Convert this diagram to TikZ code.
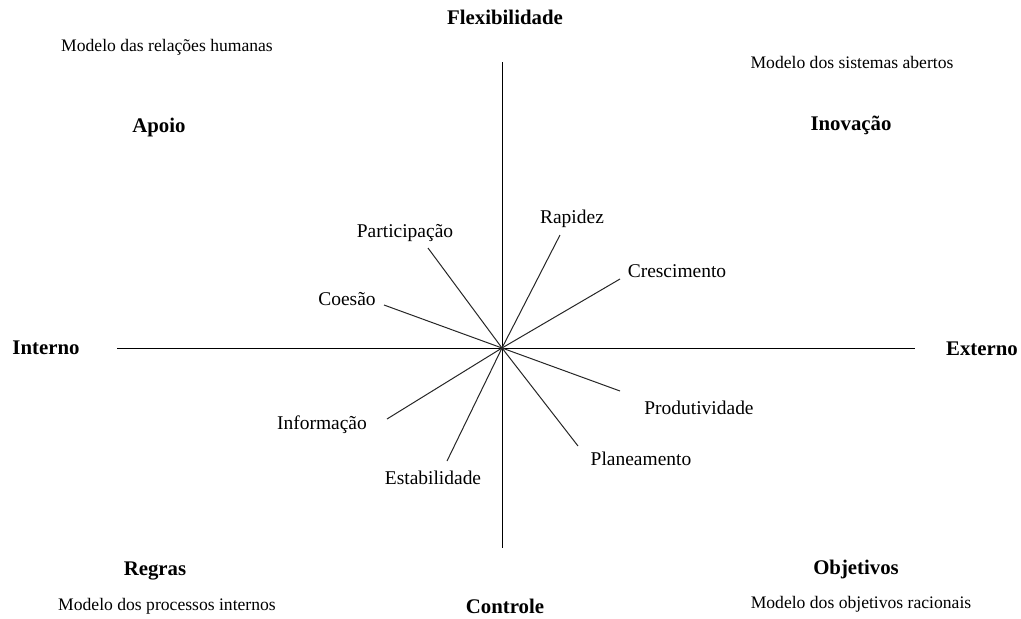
\documentclass[tikz,border=0pt]{standalone}
\usepackage{fontspec}
\setmainfont{Liberation Serif}
\begin{document}
\begin{tikzpicture}[x=0.75pt,y=-0.75pt,
  axis/.style={line width=0.75pt,black},
  spoke/.style={line width=0.75pt,black!85},
  lbl/.style={inner sep=0pt,font=\fontsize{14.6}{16}\selectfont},
  model/.style={inner sep=0pt,font=\fontsize{13.2}{15}\selectfont},
  head/.style={inner sep=0pt,font=\fontsize{15.6}{17}\selectfont\bfseries}]
\useasboundingbox (0,0) rectangle (1021,618);
% axes
\coordinate (c) at (502,348);
\coordinate (top) at (502,62);
\coordinate (bot) at (502,548);
\coordinate (left) at (117,348);
\coordinate (right) at (915,348);
\draw[axis] (top) -- (bot);
\draw[axis] (left) -- (right);
% spoke ends
\coordinate (ePart) at (428,248);
\coordinate (eRap) at (560,235);
\coordinate (eCres) at (620,279);
\coordinate (eCoe) at (384,305);
\coordinate (eInf) at (387,419);
\coordinate (eEst) at (447,461);
\coordinate (eProd) at (620,391);
\coordinate (ePlan) at (578,446);
\foreach \e in {ePart,eRap,eCres,eCoe,eInf,eEst,eProd,ePlan}
  \draw[spoke] (c) -- (\e);
% spoke labels
\node[lbl] (Part) at (405,233) {Participação};
\node[lbl] (Rap) at (572,219) {Rapidez};
\node[lbl] (Cres) at (677,271) {Crescimento};
\node[lbl] (Coe) at (347,299) {Coesão};
\node[lbl] (Inf) at (322,425) {Informação};
\node[lbl] (Est) at (433,478) {Estabilidade};
\node[lbl] (Prod) at (699,408) {Produtividade};
\node[lbl] (Plan) at (641,459) {Planeamento};
% headings
\node[head] (Flex) at (505,17) {Flexibilidade};
\node[head] (Ctrl) at (505,606) {Controle};
\node[head] (Int) at (46,348) {Interno};
\node[head] (Ext) at (982,349) {Externo};
\node[head] (Apoio) at (159,127) {Apoio};
\node[head] (Inov) at (851,125) {Inovação};
\node[head] (Regras) at (155,571) {Regras};
\node[head] (Obj) at (856,569) {Objetivos};
% models
\node[model] (mRH) at (167,47) {Modelo das relações humanas};
\node[model] (mSA) at (852,62) {Modelo dos sistemas abertos};
\node[model] (mPI) at (167,606) {Modelo dos processos internos};
\node[model] (mOR) at (861,604) {Modelo dos objetivos racionais};
\end{tikzpicture}
\end{document}
